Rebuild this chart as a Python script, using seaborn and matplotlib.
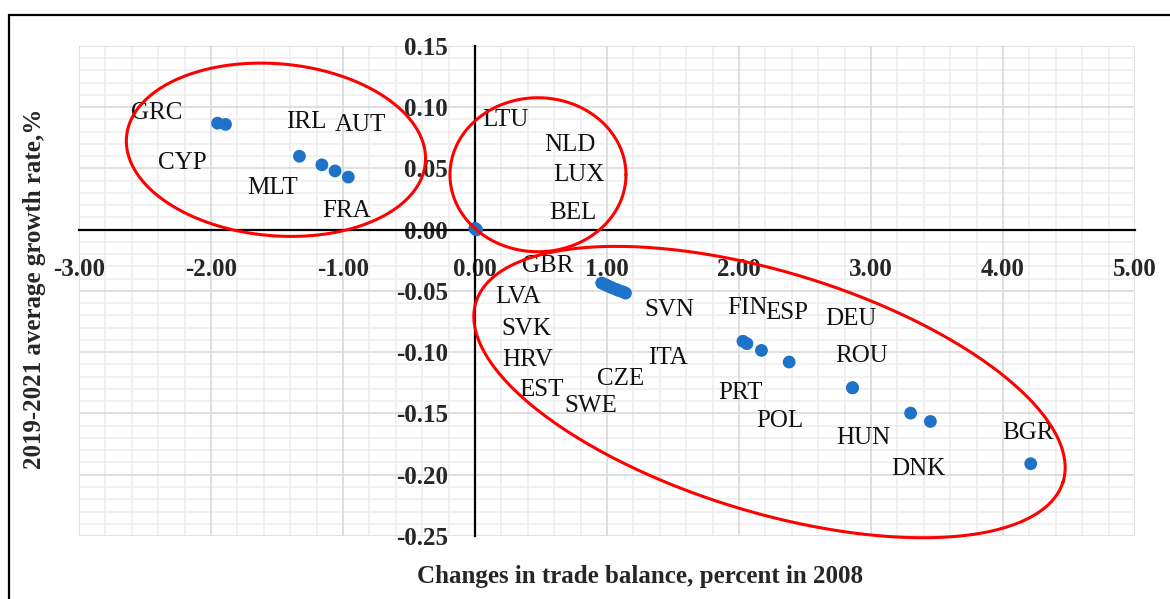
import numpy as np
import pandas as pd
import matplotlib
matplotlib.use("Agg")
import matplotlib.pyplot as plt
import seaborn as sns
from matplotlib.ticker import MultipleLocator, FormatStrFormatter
from matplotlib.patches import Rectangle

# --- data ---
countries = ["GRC", "CYP", "MLT", "IRL", "AUT", "FRA",
             "LTU", "NLD", "LUX", "BEL",
             "GBR", "LVA", "SVK", "HRV", "EST", "SWE", "CZE", "ITA", "SVN",
             "FIN", "PRT", "ESP", "POL", "ROU", "DEU", "HUN", "DNK", "BGR"]
trade_change = [-1.95, -1.89, -1.33, -1.16, -1.06, -0.96,
                0.00, 0.01, 0.01, 0.00,
                0.96, 0.98, 1.00, 1.02, 1.04, 1.07, 1.09, 1.12, 1.14,
                2.03, 2.06, 2.17, 2.38, 2.86, 2.86, 3.30, 3.45, 4.21]
growth_rate = [0.087, 0.086, 0.060, 0.053, 0.048, 0.043,
               0.001, 0.000, 0.000, 0.001,
               -0.0435, -0.0445, -0.0455, -0.0465, -0.0475, -0.0487, -0.0497, -0.0507, -0.0517,
               -0.091, -0.093, -0.0985, -0.108, -0.129, -0.129, -0.1497, -0.1565, -0.191]

# where the (hand-moved) data labels sit
label_x = [-2.41, -2.22, -1.53, -1.28, -0.87, -0.97,
           0.23, 0.72, 0.79, 0.74,
           0.55, 0.33, 0.39, 0.40, 0.50, 0.88, 1.10, 1.46, 1.47,
           2.06, 2.01, 2.36, 2.31, 2.93, 2.85, 2.94, 3.36, 4.19]
label_y = [0.0955, 0.0547, 0.0343, 0.0876, 0.0857, 0.0155,
           0.0892, 0.0688, 0.0449, 0.0136,
           -0.0300, -0.0549, -0.0808, -0.1061, -0.1312, -0.1442, -0.1219, -0.1047, -0.0659,
           -0.0639, -0.1333, -0.0680, -0.1559, -0.1034, -0.0727, -0.1696, -0.1951, -0.1660]

# red group ellipses: centre (data), semi axes (px), tilt (deg, clockwise)
ell_cx = [-1.508, 0.477, 2.231]
ell_cy = [0.0653, 0.0449, -0.1325]
ell_a = [150, 88, 307]
ell_b = [86, 77, 120]
ell_tilt = [5, 0, 17]

df = pd.DataFrame({"country": countries, "trade": trade_change, "growth": growth_rate})

sns.set_style("white")
plt.rcParams["font.family"] = ["Liberation Serif", "DejaVu Serif"]

fig = plt.figure(figsize=(11.7, 5.99), dpi=100)
ax = fig.add_axes([79 / 1170, 1 - 536 / 599, 1056 / 1170, 490 / 599])

sns.scatterplot(data=df, x="trade", y="growth", ax=ax, s=85, color="#1E73C8",
                edgecolor="none", zorder=5, clip_on=False)

ax.set_xlim(-3, 5)
ax.set_ylim(-0.25, 0.15)
ax.xaxis.set_major_locator(MultipleLocator(1))
ax.yaxis.set_major_locator(MultipleLocator(0.05))
ax.xaxis.set_major_formatter(FormatStrFormatter("%.2f"))
ax.yaxis.set_major_formatter(FormatStrFormatter("%.2f"))

# Excel-style gridlines, kept under the tick labels
ax.grid(False)
for gx in np.arange(-3, 5.01, 0.2):
    major = abs(gx - round(gx)) < 1e-6
    ax.axvline(gx, color="#d9d9d9" if major else "#efefef", linewidth=1.2, zorder=0.1 if major else 0)
for gy in np.arange(-0.25, 0.1501, 0.01):
    major = abs(gy / 0.05 - round(gy / 0.05)) < 1e-6
    ax.axhline(gy, color="#d9d9d9" if major else "#efefef", linewidth=1.2, zorder=0.1 if major else 0)

for side in ["top", "right"]:
    ax.spines[side].set_visible(False)
ax.spines["left"].set_position(("data", 0))
ax.spines["bottom"].set_position(("data", 0))
for side in ["left", "bottom"]:
    ax.spines[side].set_linewidth(1.6)
    ax.spines[side].set_color("black")
    ax.spines[side].set_zorder(3)

ax.tick_params(which="major", direction="out", length=6.5, width=1.5, color="black",
               labelsize=18)
ax.tick_params(axis="x", pad=14)
ax.tick_params(axis="y", pad=13)
for lab in ax.get_xticklabels() + ax.get_yticklabels():
    lab.set_fontweight("bold")

ax.set_xlabel("")
ax.set_ylabel("")

for name, lx, ly in zip(countries, label_x, label_y):
    ax.text(lx, ly, name, fontsize=18, ha="center", va="center", color="#111111", zorder=6)

# ellipses drawn in pixel space so the tilt looks right on screen
fig.canvas.draw()
t = np.linspace(0, 2 * np.pi, 400)
inv = ax.transData.inverted()
for cx, cy, a, b, tilt in zip(ell_cx, ell_cy, ell_a, ell_b, ell_tilt):
    th = np.deg2rad(tilt)
    px, py = ax.transData.transform((cx, cy))
    dx = a * np.cos(t) * np.cos(th) - b * np.sin(t) * np.sin(th)
    dy = a * np.cos(t) * np.sin(th) + b * np.sin(t) * np.cos(th)
    pts = inv.transform(np.column_stack([px + dx, py - dy]))
    ax.plot(pts[:, 0], pts[:, 1], color="red", linewidth=2.2, zorder=7, clip_on=False)

fig.text(640 / 1170, 1 - 577 / 599, "Changes in trade balance, percent in 2008",
         ha="center", va="center", fontsize=18, fontweight="bold")
fig.text(35 / 1170, 1 - 289 / 599, "2019-2021 average growth rate,%",
         ha="center", va="center", rotation=90, fontsize=18, fontweight="bold")

fig.patches.append(Rectangle((9 / 1170, -0.1), 1.2, 1.1 - 15 / 599,
                             transform=fig.transFigure, fill=False,
                             edgecolor="black", linewidth=1.6))

fig.savefig("out.png", dpi=100)
